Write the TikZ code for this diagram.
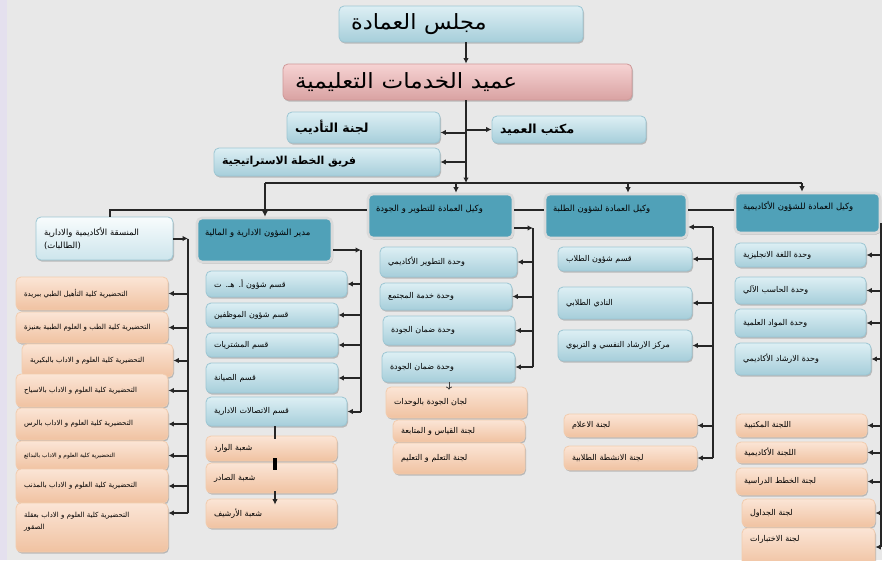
\documentclass[tikz,border=0pt]{standalone}
\usepackage{fontspec}
\usepackage{graphicx}
\newfontfamily\ar[Script=Arabic]{DejaVu Sans}
\TeXXeTstate=1
\usetikzlibrary{shadows,arrows.meta}
\definecolor{bg}{HTML}{E8E8E8}
\definecolor{lav}{HTML}{E4E0EE}
\definecolor{bluT}{HTML}{DDEFF4}
\definecolor{bluB}{HTML}{A6CEDA}
\definecolor{bluD}{HTML}{9CC6D3}
\definecolor{orgT}{HTML}{FBE5D6}
\definecolor{orgB}{HTML}{F0C2A1}
\definecolor{orgD}{HTML}{F2CCAE}
\definecolor{tealF}{HTML}{50A1B8}
\definecolor{tealD}{HTML}{DADADA}
\definecolor{pinkT}{HTML}{F6D3D3}
\definecolor{pinkB}{HTML}{D9A2A2}
\definecolor{pinkD}{HTML}{CF9898}
\newcommand\myR[1]{\beginR #1\endR}
\newcommand\bx[7]{%
  \pgfmathsetmacro\bxw{#4-#2}%
  \pgfmathsetmacro\bxh{#5-#3}%
  \pgfmathsetmacro\bxt{#4-#2-16}%
  \pgfmathsetmacro\bxcx{(#2+#4)/2}%
  \pgfmathsetmacro\bxcy{(#3+#5)/2}%
  \node[#6, minimum width=\bxw pt, minimum height=\bxh pt, text width=\bxt pt] (#1) at (\bxcx,\bxcy) {#7};%
}
\tikzset{
  base/.style={rounded corners=5pt, inner xsep=8pt, inner ysep=2pt, align=left,
    text=black, font=\ar\fontsize{8}{10}\selectfont,
    drop shadow={opacity=0.3, shadow xshift=1pt, shadow yshift=-1.6pt, fill=black!70}},
  blu/.style={base, draw=bluD, line width=0.8pt, top color=bluT, bottom color=bluB},
  lblu/.style={base, draw=bluD, line width=0.8pt, top color=white!80!bluT, bottom color=bluT!70!bluB, font=\ar\fontsize{8.5}{10}\selectfont},
  org/.style={base, draw=orgD, line width=0.8pt, top color=orgT, bottom color=orgB},
  teal/.style={base, draw=tealD, line width=2.6pt, fill=tealF, font=\ar\fontsize{8.5}{10}\selectfont},
  pink/.style={base, draw=pinkD, line width=0.8pt, top color=pinkT, bottom color=pinkB},
  big/.style={font=\ar\fontsize{21}{24}\selectfont, inner xsep=12pt},
  mid/.style={font=\ar\bfseries\fontsize{12.5}{14}\selectfont},
  midb/.style={font=\ar\bfseries\fontsize{11}{13}\selectfont},
  sm/.style={font=\ar\fontsize{7}{10}\selectfont},
  xs/.style={font=\ar\fontsize{5.8}{8}\selectfont},
  conn/.style={line width=2pt, draw=black!85},
  arr/.style={conn, -{Latex[length=5.5pt,width=5.5pt]}},
  tarr/.style={line width=0.8pt, draw=black!75, -{To[length=3pt,width=6pt]}},
}
\begin{document}
\begin{tikzpicture}[x=1pt,y=-1pt]
\useasboundingbox (0,0) rectangle (882,560);
\fill[bg] (0,0) rectangle (882,560);
\fill[lav] (0,0) rectangle (7,560);

% top levels
\bx{majlis}{343}{6}{579}{42}{blu,big}{\scalebox{1.07}[1]{\myR{مجلس العمادة}}}
\bx{dean}{287}{64}{628}{100}{pink,big}{\scalebox{1.1}[1]{\myR{عميد الخدمات التعليمية}}}
\bx{tadib}{287}{112}{440}{143}{blu,mid}{\myR{لجنة التأديب}}
\bx{maktab}{492}{116}{646}{143}{blu,mid}{\myR{مكتب العميد}}
\bx{fariq}{214}{148}{440}{176}{blu,midb}{\myR{فريق الخطة الاستراتيجية}}

% vice deans
\bx{acad}{735}{193}{880}{233}{teal}{\myR{وكيل العمادة للشؤون الأكاديمية}\\[6pt]\mbox{}}
\bx{tullab}{545}{194}{687}{238}{teal}{\myR{وكيل العمادة لشؤون الطلبة}\\[6pt]\mbox{}}
\bx{tatweer}{368}{194}{513}{238}{teal}{\myR{وكيل العمادة للتطوير و الجودة}\\[6pt]\mbox{}}
\bx{modir}{197}{218}{332}{262}{teal}{\myR{مدير الشؤون الادارية و المالية}\\[6pt]\mbox{}}
\bx{munq}{36}{217}{173}{260}{lblu}{\myR{المنسقة الأكاديمية والادارية}\\[3pt]\myR{(الطالبات)}}

% academic children
\bx{a1}{735}{243}{866}{267}{blu}{\myR{وحدة اللغة الانجليزية}}
\bx{a2}{735}{277}{866}{304}{blu}{\myR{وحدة الحاسب الآلي}}
\bx{a3}{735}{309}{866}{337}{blu}{\myR{وحدة المواد العلمية}}
\bx{a4}{735}{343}{871}{375}{blu}{\myR{وحدة الارشاد الأكاديمي}}
\bx{c1}{736}{414}{867}{437}{org}{\myR{اللجنة المكتبية}}
\bx{c2}{736}{442}{867}{463}{org}{\myR{اللجنة الأكاديمية}}
\bx{c3}{736}{468}{867}{495}{org}{\myR{لجنة الخطط الدراسية}}
\bx{c4}{742}{499}{875}{527}{org}{\myR{لجنة الجداول}}
\bx{c5}{742}{528}{875}{566}{org}{\myR{لجنة الاختبارات}\\[8pt]\mbox{}}

% student affairs children
\bx{s1}{558}{247}{692}{271}{blu}{\myR{قسم شؤون الطلاب}}
\bx{s2}{558}{287}{692}{319}{blu}{\myR{النادي الطلابي}}
\bx{s3}{558}{330}{692}{361}{blu}{\myR{مركز الارشاد النفسي و التربوي}}
\bx{s4}{564}{414}{697}{437}{org}{\myR{لجنة الاعلام}}
\bx{s5}{564}{446}{697}{470}{org}{\myR{لجنة الانشطة الطلابية}}

% development & quality children
\bx{t1}{380}{247}{517}{277}{blu}{\myR{وحدة التطوير الأكاديمي}}
\bx{t2}{380}{283}{512}{310}{blu}{\myR{وحدة خدمة المجتمع}}
\bx{t3}{383}{316}{515}{345}{blu}{\myR{وحدة ضمان الجودة}}
\bx{t4}{382}{352}{515}{382}{blu}{\myR{وحدة ضمان الجودة}}
\bx{t5}{386}{387}{527}{418}{org}{\myR{لجان الجودة بالوحدات}}
\bx{t6}{393}{420}{525}{442}{org}{\myR{لجنة القياس و المتابعة}}
\bx{t7}{393}{443}{525}{474}{org}{\myR{لجنة التعلم و التعليم}}

% administration children
\bx{m1}{206}{271}{347}{297}{blu}{\myR{قسم شؤون أ. هـ. ت}}
\bx{m2}{206}{303}{338}{327}{blu}{\myR{قسم شؤون الموظفين}}
\bx{m3}{206}{333}{338}{357}{blu}{\myR{قسم المشتريات}}
\bx{m4}{206}{363}{338}{393}{blu}{\myR{قسم الصيانة}}
\bx{m5}{206}{397}{347}{426}{blu}{\myR{قسم الاتصالات الادارية}}
\bx{w1}{206}{436}{337}{461}{org}{\myR{شعبة الوارد}}
\bx{w2}{206}{463}{337}{493}{org}{\myR{شعبة الصادر}}
\bx{w3}{206}{499}{337}{528}{org}{\myR{شعبة الأرشيف}}

% coordinator children
\bx{k1}{16}{277}{168}{310}{org,sm}{\myR{التحضيرية كلية التأهيل الطبي ببريدة}}
\bx{k2}{16}{312}{168}{343}{org,sm}{\myR{التحضيرية كلية الطب و العلوم الطبية بعنيزة}}
\bx{k3}{22}{344}{173}{377}{org,sm}{\myR{التحضيرية كلية العلوم و الاداب بالبكيرية}}
\bx{k4}{16}{374}{168}{407}{org,sm}{\myR{التحضيرية كلية العلوم و الاداب بالاسياح}}
\bx{k5}{16}{408}{168}{440}{org,sm}{\myR{التحضيرية كلية العلوم و الاداب بالرس}}
\bx{k6}{16}{441}{168}{470}{org,xs}{\myR{التحضيرية كلية العلوم و الاداب بالبدائع}}
\bx{k7}{16}{469}{168}{503}{org,sm}{\myR{التحضيرية كلية العلوم و الاداب بالمذنب}}
\bx{k8}{16}{503}{168}{552}{org,sm}{\myR{التحضيرية كلية العلوم و الاداب بعقلة}\\[2pt]\myR{الصقور}\\[4pt]\mbox{}}

% ---------- connectors ----------
\coordinate (trX) at (466,0);
\coordinate (busL) at (265,183);
\coordinate (busR) at (802,183);
\coordinate (bT) at (456,183);
\coordinate (bS) at (628,183);
\coordinate (lnA) at (110,210);

\draw[arr] (majlis.south -| trX) -- (dean.north -| trX);
\draw[conn] (dean.south -| trX) -- (fariq.east -| trX);
\draw[arr] (fariq.east -| trX) -- (trX |- busL);
\draw[arr] ([yshift=-5pt]tadib.east -| trX) -- ([yshift=-5pt]tadib.east);
\draw[arr] (maktab.west -| trX) -- (maktab.west);
\draw[arr] (fariq.east -| trX) -- (fariq.east);

\draw[conn] (busL) -- (busR);
\draw[arr] (busL) -- (busL |- modir.north);
\draw[arr] (bT) -- (bT |- tatweer.north);
\draw[arr] (bS) -- (bS |- tullab.north);
\draw[arr] (busR) -- (busR |- acad.north);

\draw[conn] (lnA |- munq.north) -- (lnA) -- (lnA -| tatweer.west);
\draw[conn] (tatweer.east |- lnA) -- (tullab.west |- lnA);
\draw[conn] (tullab.east |- lnA) -- (acad.west |- lnA);

% academic bracket
\coordinate (aX) at (881,0);
\draw[conn] ([yshift=-10pt]acad.east -| aX) -- (c5.east -| aX);
\foreach \n in {a1,a2,a3,a4,c1,c2,c3,c4,c5}{\draw[arr] (\n.east -| aX) -- (\n.east);}

% student bracket
\coordinate (sX) at (713,0);
\draw[conn] ([yshift=-11pt]tullab.east -| sX) -- (s5.east -| sX);
\draw[arr] ([yshift=-11pt]tullab.east -| sX) -- ([yshift=-11pt]tullab.east);
\foreach \n in {s1,s2,s3,s4,s5}{\draw[arr] (\n.east -| sX) -- (\n.east);}

% development bracket
\coordinate (tX) at (533,0);
\draw[arr] ([yshift=-12pt]tatweer.east) -- ([yshift=-12pt]tatweer.east -| tX);
\draw[conn] ([yshift=-12pt]tatweer.east -| tX) -- (t4.east -| tX);
\foreach \n in {t1,t2,t3,t4}{\draw[arr] (\n.east -| tX) -- (\n.east);}
\coordinate (lX) at (449,0);
\draw[tarr, shorten >=-3pt] (t4.south -| lX) -- (t5.north -| lX);

% administration bracket
\coordinate (mX) at (361,0);
\draw[arr] ([yshift=-10pt]modir.east) -- ([yshift=-10pt]modir.east -| mX);
\draw[conn] ([yshift=-10pt]modir.east -| mX) -- (m5.east -| mX);
\foreach \n in {m1,m2,m3,m4,m5}{\draw[arr] (\n.east -| mX) -- (\n.east);}
\coordinate (cX) at (275,0);
\draw[line width=1.6pt, draw=black!85, shorten >=-3pt] (m5.south -| cX) -- (w1.north -| cX);
\draw[line width=3.5pt, draw=black, shorten <=-3pt, shorten >=-7pt] (w1.south -| cX) -- (w2.north -| cX);
\draw[arr, shorten <=-2pt, shorten >=-6pt] (w2.south -| cX) -- (w3.north -| cX);

% coordinator bracket
\coordinate (kX) at (188,0);
\draw[arr] (munq.east) -- (munq.east -| kX);
\draw[conn] (munq.east -| kX) -- ([yshift=14.5pt]k8.east -| kX);
\foreach \n in {k1,k2,k3,k4,k5,k6,k7}{\draw[arr] (\n.east -| kX) -- (\n.east);}
\draw[arr] ([yshift=14.5pt]k8.east -| kX) -- ([yshift=14.5pt]k8.east);
\end{tikzpicture}
\end{document}
